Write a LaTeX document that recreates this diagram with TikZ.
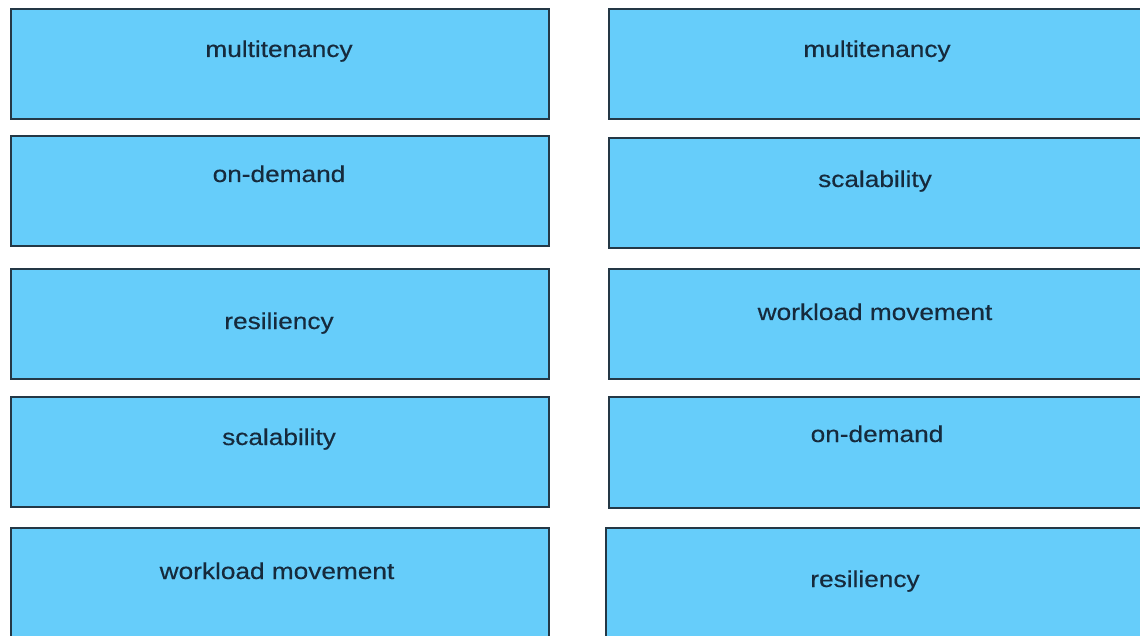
\documentclass[tikz,border=0pt]{standalone}
\usepackage{fontspec}
\newfontfamily\boxfont[FakeStretch=1.14,FakeBold=0.4]{Liberation Sans}
\usepackage{tikz}
\usetikzlibrary{positioning}
\definecolor{CardBlue}{RGB}{102,205,250}
\definecolor{CardEdge}{RGB}{36,56,70}
\definecolor{CardText}{RGB}{22,42,60}

\begin{document}
\begin{tikzpicture}[
  x=0.5pt, y=-0.5pt,
  card/.style={draw=CardEdge, fill=CardBlue, line width=0.9pt, anchor=north west, inner sep=0pt},
  term/.style={anchor=base, text=CardText, font=\boxfont\fontsize{11.5}{13}\selectfont, inner sep=0pt}
]
  \useasboundingbox (0,0) rectangle (1140,636);
  \fill[white] (0,0) rectangle (1140,636);
  \clip (0,0) rectangle (1140,636);

  % left column
  \node[card, minimum width=269pt, minimum height=55pt] (l1) at (10,8) {};
  \node[card, minimum width=269pt, minimum height=55pt] (l2) at (10,135) {};
  \node[card, minimum width=269pt, minimum height=55pt] (l3) at (10,268) {};
  \node[card, minimum width=269pt, minimum height=55pt] (l4) at (10,396) {};
  \node[card, minimum width=269pt, minimum height=60pt] (l5) at (10,527) {};

  % right column
  \node[card, minimum width=270pt, minimum height=55pt] (r1) at (608,8) {};
  \node[card, minimum width=270pt, minimum height=55pt] (r2) at (608,137) {};
  \node[card, minimum width=270pt, minimum height=55pt] (r3) at (608,268) {};
  \node[card, minimum width=270pt, minimum height=55.5pt] (r4) at (608,396) {};
  \node[card, minimum width=272pt, minimum height=60pt] (r5) at (605,527) {};

  % terms
  \node[term] (tl1) at (279,57) {multitenancy};
  \node[term] (tl2) at (279,182) {on-demand};
  \node[term] (tl3) at (279,329) {resiliency};
  \node[term] (tl4) at (279,445) {scalability};
  \node[term] (tl5) at (277,579) {workload movement};

  \node[term] (tr1) at (877,57) {multitenancy};
  \node[term] (tr2) at (875,187) {scalability};
  \node[term] (tr3) at (875,320) {workload movement};
  \node[term] (tr4) at (877,442) {on-demand};
  \node[term] (tr5) at (865,587) {resiliency};
\end{tikzpicture}
\end{document}
